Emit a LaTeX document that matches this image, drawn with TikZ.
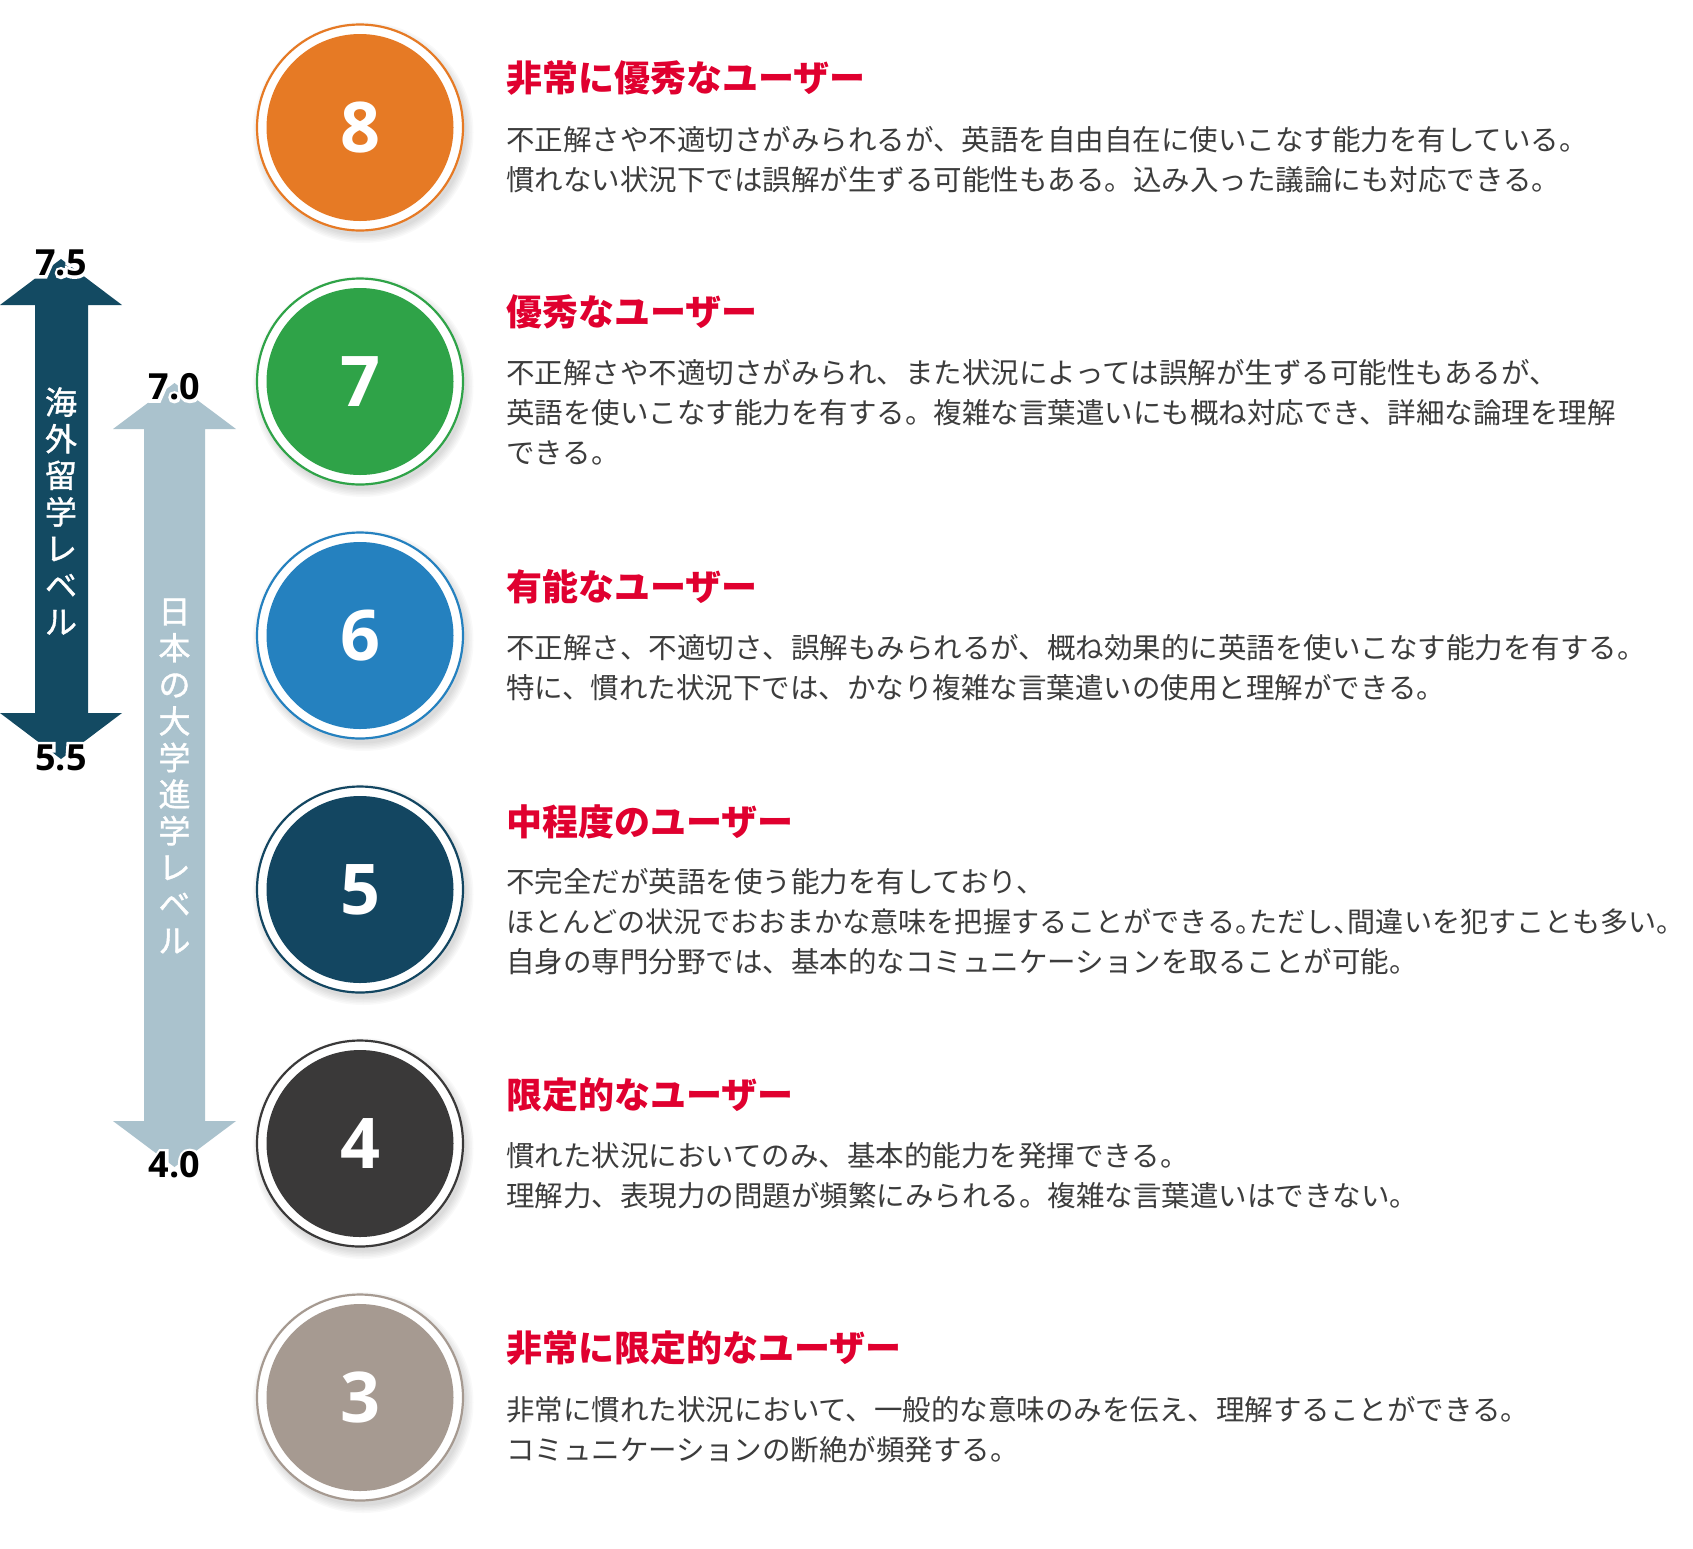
\documentclass[tikz,border=0pt]{standalone}
\usepackage{fontspec}
\setmainfont{Noto Sans CJK JP}
\newfontfamily\numfont{Open Sans}
\newfontfamily\vfont[FakeBold=1.2]{Noto Sans CJK JP}
\definecolor{c8}{HTML}{E67A25}
\definecolor{c7}{HTML}{2FA348}
\definecolor{c6}{HTML}{2581BF}
\definecolor{c5}{HTML}{134661}
\definecolor{c4}{HTML}{3A3939}
\definecolor{c3}{HTML}{A69A91}
\definecolor{darkarrow}{HTML}{134A62}
\definecolor{lightarrow}{HTML}{AAC2CD}
\definecolor{titlered}{HTML}{E0002F}
\definecolor{bodygray}{HTML}{3C3C3C}
\newcommand\halotext[1]{\leavevmode\rlap{\special{pdf:literal direct 1 Tr 6 w 1 1 1 RG}#1\special{pdf:literal direct 0 Tr 0 0 0 RG 1 w}}#1}
\tikzset{
  titletext/.style={anchor=west, inner sep=0pt, text=titlered, font=\bfseries\fontsize{36}{40}\selectfont},
  bodytext/.style={anchor=west, inner sep=0pt, text=bodygray, font=\fontsize{28.5}{40}\selectfont},
  numcirc/.style={circle, inner sep=0pt, minimum size=187pt, text=white, font=\numfont\bfseries\fontsize{70}{70}\selectfont},
  ringcirc/.style={line width=2.2pt, fill=white},
  vlabel/.style={align=center, text=white, inner sep=0pt, font=\vfont\fontsize{32}{36.6}\selectfont},
  lvl/.style={inner sep=0pt, text=black, font=\numfont\bfseries\fontsize{36}{36}\selectfont},
}
\begin{document}
\begin{tikzpicture}[x=1pt,y=-1pt]
\useasboundingbox (0,0) rectangle (1693,1548);
\fill[white] (0,0) rectangle (1693,1548);

% arrows
\fill[darkarrow] (35,305) -- (0,305) -- (61,259) -- (122,305) -- (88,305) -- (88,713) -- (122,713) -- (61,759) -- (0,713) -- (35,713) -- cycle;
\fill[lightarrow] (144,429) -- (113,429) -- (174.5,383) -- (236,429) -- (205,429) -- (205,1121) -- (236,1121) -- (174.5,1167) -- (113,1121) -- (144,1121) -- cycle;

\node[vlabel] (abroad) at (61,511) {海\\外\\留\\学\\レ\\ベ\\ル};
\node[vlabel] (japan) at (174.5,776) {日\\本\\の\\大\\学\\進\\学\\レ\\ベ\\ル};

\node[lvl] (l75) at (61,263) {\halotext{7.5}};
\node[lvl] (l55) at (61,758) {\halotext{5.5}};
\node[lvl] (l70) at (174.5,387) {\halotext{7.0}};
\node[lvl] (l40) at (174.5,1165) {\halotext{4.0}};

% circles
\foreach \n/\cy/\col in {8/127.5/c8, 7/381.5/c7, 6/635.5/c6, 5/889.5/c5, 4/1143.5/c4, 3/1397.5/c3} {
  \foreach \k in {1,...,6} {
    \fill[black, opacity=0.022] (363,\cy+5) circle ({(101.5+1.5*\k)*1pt});
  }
  \draw[ringcirc, draw=\col] (360,\cy) circle (103pt);
  \node[numcirc, fill=\col] (n\n) at (360,\cy) {\n};
}

% block 8
\node[titletext] (t8) at (506,78.5) {非常に優秀なユーザー};
\node[bodytext] (b8a) at (506,140) {不正解さや不適切さがみられるが、英語を自由自在に使いこなす能力を有している。};
\node[bodytext] (b8b) at (506,180) {慣れない状況下では誤解が生ずる可能性もある。込み入った議論にも対応できる。};

% block 7
\node[titletext] (t7) at (506,312) {優秀なユーザー};
\node[bodytext] (b7a) at (506,373) {不正解さや不適切さがみられ、また状況によっては誤解が生ずる可能性もあるが、};
\node[bodytext] (b7b) at (506,413) {英語を使いこなす能力を有する。複雑な言葉遣いにも概ね対応でき、詳細な論理を理解};
\node[bodytext] (b7c) at (506,453) {できる。};

% block 6
\node[titletext] (t6) at (506,587) {有能なユーザー};
\node[bodytext] (b6a) at (506,648) {不正解さ、不適切さ、誤解もみられるが、概ね効果的に英語を使いこなす能力を有する。};
\node[bodytext] (b6b) at (506,688) {特に、慣れた状況下では、かなり複雑な言葉遣いの使用と理解ができる。};

% block 5
\node[titletext] (t5) at (506,821.5) {中程度のユーザー};
\node[bodytext] (b5a) at (506,882) {不完全だが英語を使う能力を有しており、};
\node[bodytext, font=\fontsize{28.1}{40}\selectfont] (b5b) at (506,922) {ほとんどの状況でおおまかな意味を把握することができる。\kern-0.5em ただし、\kern-0.5em 間違いを犯すことも多い。};
\node[bodytext] (b5c) at (506,962) {自身の専門分野では、基本的なコミュニケーションを取ることが可能。};

% block 4
\node[titletext] (t4) at (506,1095) {限定的なユーザー};
\node[bodytext] (b4a) at (506,1156) {慣れた状況においてのみ、基本的能力を発揮できる。};
\node[bodytext] (b4b) at (506,1196) {理解力、表現力の問題が頻繁にみられる。複雑な言葉遣いはできない。};

% block 3
\node[titletext] (t3) at (506,1348.5) {非常に限定的なユーザー};
\node[bodytext] (b3a) at (506,1410) {非常に慣れた状況において、一般的な意味のみを伝え、理解することができる。};
\node[bodytext] (b3b) at (506,1450) {コミュニケーションの断絶が頻発する。};
\end{tikzpicture}
\end{document}
